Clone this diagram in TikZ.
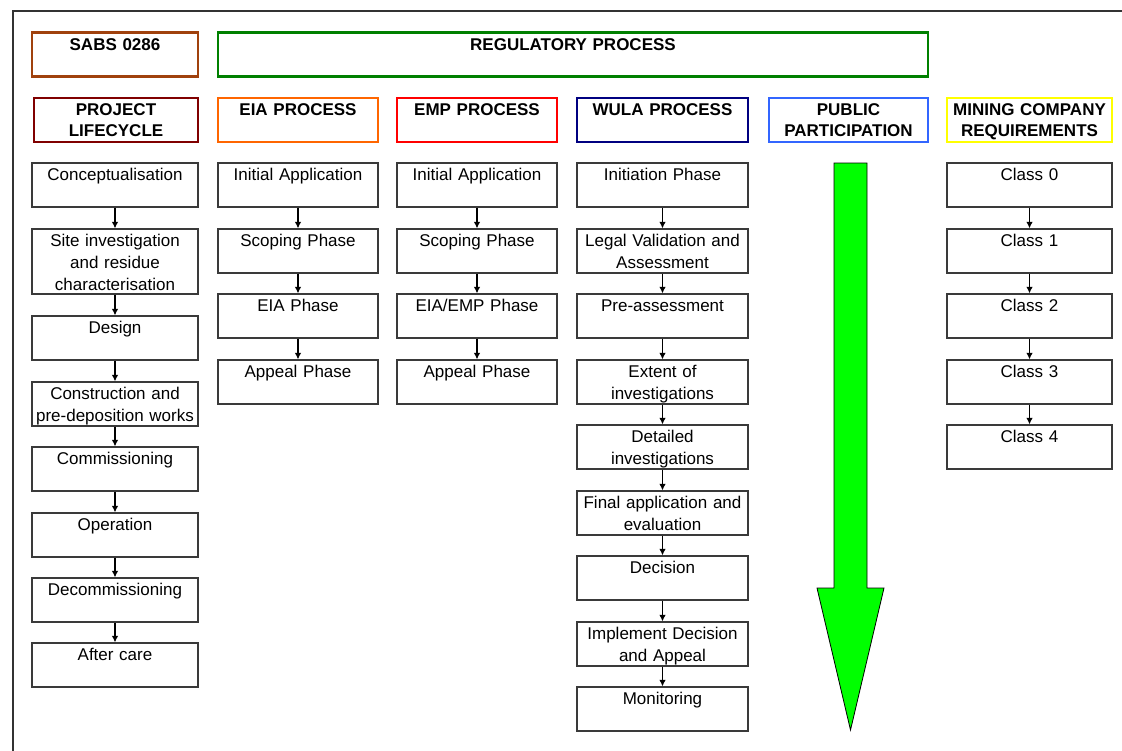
\documentclass[tikz,border=0pt]{standalone}
\usepackage{fontspec}
\setmainfont{Liberation Sans}
\usetikzlibrary{arrows.meta}
\definecolor{sabsc}{HTML}{A0410D}
\definecolor{regc}{HTML}{008000}
\definecolor{lifec}{HTML}{800000}
\definecolor{eiac}{HTML}{FF6600}
\definecolor{empc}{HTML}{FF0000}
\definecolor{wulac}{HTML}{000080}
\definecolor{pubc}{HTML}{3366FF}
\definecolor{minec}{HTML}{FFFF00}
\definecolor{framec}{HTML}{333333}
\definecolor{boxc}{HTML}{3A3A3A}
\definecolor{arrowc}{HTML}{00FF00}
\begin{document}
\begin{tikzpicture}[x=1pt,y=-1pt,
  box/.style={draw=boxc, line width=1.2pt, rectangle, inner sep=0pt, minimum height=44pt, fill=white},
  hbox/.style={rectangle, line width=2.4pt, inner sep=0pt, minimum height=44pt, fill=white},
  txt/.style={anchor=base, inner sep=0pt, text width=185pt, align=center, font=\fontsize{17}{21.6}\selectfont},
  htxt/.style={anchor=base, inner sep=0pt, text width=185pt, align=center, font=\fontsize{17}{21.6}\selectfont\bfseries},
  conn/.style={draw=black, line width=1.2pt, -{Latex[length=6.5pt,width=6.5pt]}},
  c1/.style={box, minimum width=166pt},
  c2/.style={box, minimum width=160pt},
  c3/.style={box, minimum width=160pt},
  c4/.style={box, minimum width=171pt},
  c6/.style={box, minimum width=165pt}]
\clip (0,0) rectangle (1122,750);
\fill[white] (0,0) rectangle (1122,750);
% frame
\draw[framec, line width=1.3pt] (13,760) -- (13,11) -- (1130,11);

% top headers
\node[hbox, draw=sabsc, minimum width=166pt] (sabs) at (115,54.5) {};
\node[htxt] (sabst) at ([yshift=-19.5pt]sabs.north) {SABS 0286};
\node[hbox, draw=regc, minimum width=710pt] (reg) at (573,54.5) {};
\node[htxt, text width=400pt] (regt) at ([yshift=-19.5pt]reg.north) {REGULATORY PROCESS};

% column headers
\node[hbox, draw=lifec, minimum width=164pt] (hlife) at (116,120) {};
\node[htxt] (hlifet) at ([yshift=-18.5pt]hlife.north) {PROJECT\\LIFECYCLE};
\node[hbox, draw=eiac, minimum width=160pt] (heia) at (298,120) {};
\node[htxt] (heiat) at ([yshift=-18.5pt]heia.north) {EIA PROCESS};
\node[hbox, draw=empc, minimum width=160pt] (hemp) at (477,120) {};
\node[htxt] (hempt) at ([yshift=-18.5pt]hemp.north) {EMP PROCESS};
\node[hbox, draw=wulac, minimum width=171pt] (hwula) at (662.5,120) {};
\node[htxt] (hwulat) at ([yshift=-18.5pt]hwula.north) {WULA PROCESS};
\node[hbox, draw=pubc, minimum width=159pt] (hpub) at (848.5,120) {};
\node[htxt] (hpubt) at ([yshift=-18.5pt]hpub.north) {PUBLIC\\PARTICIPATION};
\node[hbox, draw=minec, minimum width=165pt] (hmine) at (1029.5,120) {};
\node[htxt] (hminet) at ([yshift=-18.5pt]hmine.north) {MINING COMPANY\\REQUIREMENTS};

% column 1: project lifecycle
\node[c1] (p1) at (115,185) {};
\node[txt] (p1t) at ([yshift=-18.5pt]p1.north) {Conceptualisation};
\node[c1, minimum height=65pt] (p2) at (115,261.5) {};
\node[txt] (p2t) at ([yshift=-18.5pt]p2.north) {Site investigation\\and residue\\characterisation};
\node[c1] (p3) at (115,338) {};
\node[txt] (p3t) at ([yshift=-18.5pt]p3.north) {Design};
\node[c1] (p4) at (115,404) {};
\node[txt] (p4t) at ([yshift=-18.5pt]p4.north) {Construction and\\pre-deposition works};
\node[c1] (p5) at (115,469) {};
\node[txt] (p5t) at ([yshift=-18.5pt]p5.north) {Commissioning};
\node[c1] (p6) at (115,535) {};
\node[txt] (p6t) at ([yshift=-18.5pt]p6.north) {Operation};
\node[c1] (p7) at (115,600) {};
\node[txt] (p7t) at ([yshift=-18.5pt]p7.north) {Decommissioning};
\node[c1] (p8) at (115,665) {};
\node[txt] (p8t) at ([yshift=-18.5pt]p8.north) {After care};
\foreach \a/\b in {p1/p2,p2/p3,p3/p4,p4/p5,p5/p6,p6/p7,p7/p8}
  \draw[conn] (\a) -- (\b);

% EIA
\node[c2] (e1) at (298,185) {};
\node[txt] (e1t) at ([yshift=-18.5pt]e1.north) {Initial Application};
\node[c2] (e2) at (298,251) {};
\node[txt] (e2t) at ([yshift=-18.5pt]e2.north) {Scoping Phase};
\node[c2] (e3) at (298,316) {};
\node[txt] (e3t) at ([yshift=-18.5pt]e3.north) {EIA Phase};
\node[c2] (e4) at (298,382) {};
\node[txt] (e4t) at ([yshift=-18.5pt]e4.north) {Appeal Phase};
\foreach \a/\b in {e1/e2,e2/e3,e3/e4}
  \draw[conn] (\a) -- (\b);

% EMP
\node[c3] (m1) at (477,185) {};
\node[txt] (m1t) at ([yshift=-18.5pt]m1.north) {Initial Application};
\node[c3] (m2) at (477,251) {};
\node[txt] (m2t) at ([yshift=-18.5pt]m2.north) {Scoping Phase};
\node[c3] (m3) at (477,316) {};
\node[txt] (m3t) at ([yshift=-18.5pt]m3.north) {EIA/EMP Phase};
\node[c3] (m4) at (477,382) {};
\node[txt] (m4t) at ([yshift=-18.5pt]m4.north) {Appeal Phase};
\foreach \a/\b in {m1/m2,m2/m3,m3/m4}
  \draw[conn] (\a) -- (\b);

% WULA
\node[c4] (w1) at (662.5,185) {};
\node[txt] (w1t) at ([yshift=-18.5pt]w1.north) {Initiation Phase};
\node[c4] (w2) at (662.5,251) {};
\node[txt] (w2t) at ([yshift=-18.5pt]w2.north) {Legal Validation and\\Assessment};
\node[c4] (w3) at (662.5,316) {};
\node[txt] (w3t) at ([yshift=-18.5pt]w3.north) {Pre-assessment};
\node[c4] (w4) at (662.5,382) {};
\node[txt] (w4t) at ([yshift=-18.5pt]w4.north) {Extent of\\investigations};
\node[c4] (w5) at (662.5,447) {};
\node[txt] (w5t) at ([yshift=-18.5pt]w5.north) {Detailed\\investigations};
\node[c4] (w6) at (662.5,513) {};
\node[txt] (w6t) at ([yshift=-18.5pt]w6.north) {Final application and\\evaluation};
\node[c4] (w7) at (662.5,578) {};
\node[txt] (w7t) at ([yshift=-18.5pt]w7.north) {Decision};
\node[c4] (w8) at (662.5,644) {};
\node[txt] (w8t) at ([yshift=-18.5pt]w8.north) {Implement Decision\\and Appeal};
\node[c4] (w9) at (662.5,709) {};
\node[txt] (w9t) at ([yshift=-18.5pt]w9.north) {Monitoring};
\foreach \a/\b in {w1/w2,w2/w3,w3/w4,w4/w5,w5/w6,w6/w7,w7/w8,w8/w9}
  \draw[conn] (\a) -- (\b);

% Public participation arrow
\draw[fill=arrowc, draw=black, line width=0.8pt, line join=miter]
  (834,163) -- (867,163) -- (867,588) -- (884,588) -- (850.5,730) -- (817,588) -- (834,588) -- cycle;

% Mining company
\node[c6] (k0) at (1029.5,185) {};
\node[txt] (k0t) at ([yshift=-18.5pt]k0.north) {Class 0};
\node[c6] (k1) at (1029.5,251) {};
\node[txt] (k1t) at ([yshift=-18.5pt]k1.north) {Class 1};
\node[c6] (k2) at (1029.5,316) {};
\node[txt] (k2t) at ([yshift=-18.5pt]k2.north) {Class 2};
\node[c6] (k3) at (1029.5,382) {};
\node[txt] (k3t) at ([yshift=-18.5pt]k3.north) {Class 3};
\node[c6] (k4) at (1029.5,447) {};
\node[txt] (k4t) at ([yshift=-18.5pt]k4.north) {Class 4};
\foreach \a/\b in {k0/k1,k1/k2,k2/k3,k3/k4}
  \draw[conn] (\a) -- (\b);
\end{tikzpicture}
\end{document}
